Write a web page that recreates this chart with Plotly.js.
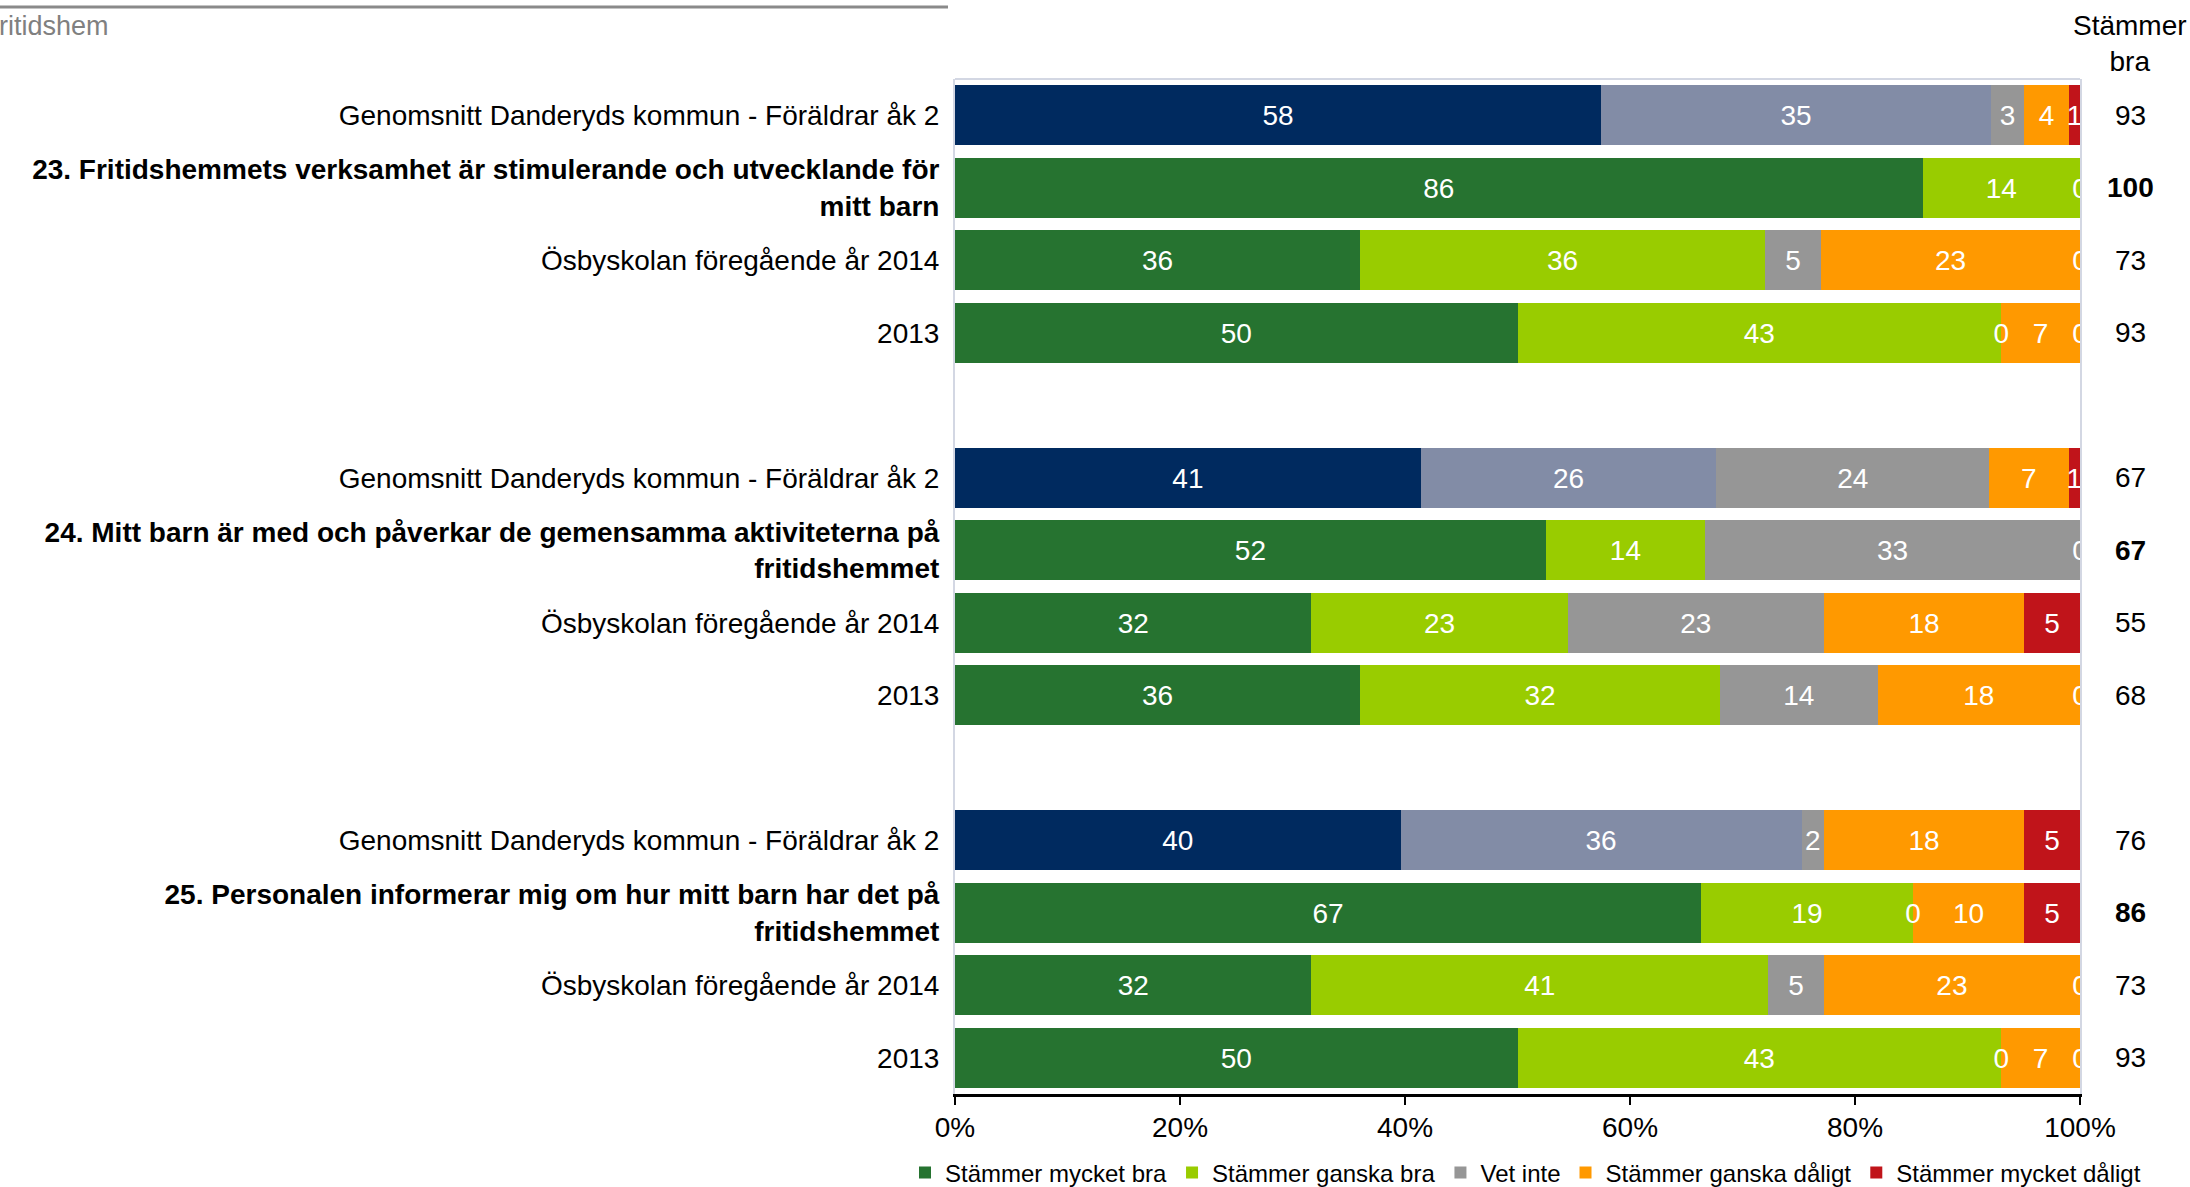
<!DOCTYPE html>
<html>
<head>
<meta charset="utf-8">
<script src="https://cdn.plot.ly/plotly-3.0.1.min.js"></script>
<style>html,body{margin:0;padding:0;background:#fff;}#chart{width:2190px;height:1187px;}</style>
</head>
<body>
<div id="chart"></div>
<script>
// ---------- data ----------
const rowLabels = [
  "Genomsnitt Danderyds kommun - Föräldrar åk 2",
  "23. Fritidshemmets verksamhet är stimulerande och utvecklande för<br>mitt barn",
  "Ösbyskolan föregående år 2014",
  "2013",
  "Genomsnitt Danderyds kommun - Föräldrar åk 2",
  "24. Mitt barn är med och påverkar de gemensamma aktiviteterna på<br>fritidshemmet",
  "Ösbyskolan föregående år 2014",
  "2013",
  "Genomsnitt Danderyds kommun - Föräldrar åk 2",
  "25. Personalen informerar mig om hur mitt barn har det på<br>fritidshemmet",
  "Ösbyskolan föregående år 2014",
  "2013"
];
const rowIsQuestion = [false,true,false,false, false,true,false,false, false,true,false,false];
const rowIsAverage  = [true,false,false,false, true,false,false,false, true,false,false,false];

const seriesNames = ["Stämmer mycket bra","Stämmer ganska bra","Vet inte","Stämmer ganska dåligt","Stämmer mycket dåligt"];
const mycketBra    = [58,86,36,50, 41,52,32,36, 40,67,32,50];
const ganskaBra    = [35,14,36,43, 26,14,23,32, 36,19,41,43];
const vetInte      = [3,0,5,0,     24,33,23,14, 2,0,5,0];
const ganskaDaligt = [4,0,23,7,    7,0,18,18,   18,10,23,7];
const mycketDaligt = [1,0,0,0,     1,0,5,0,     5,5,0,0];
const stammerBra   = [93,100,73,93, 67,67,55,68, 76,86,73,93];
const xTickVals   = [0,20,40,60,80,100];
const xTickLabels = ["0%","20%","40%","60%","80%","100%"];
const headerText = "Stämmer<br>bra";
const topText = "ritidshem";

// ---------- styles ----------
const FONT = "Liberation Sans, Arial, sans-serif";
const C = {
  green:"#267330", lime:"#99CC00", grey:"#969696", orange:"#FF9900", red:"#C0141A",
  navy:"#002A5F", blueGrey:"#828CA6"
};
const W = 2190, H = 1187;
const PL = 955, PR = 2080, PT = 79, PB = 1094;
const pxX = px => (px - PL) / (PR - PL);
const pxY = py => (PB - py) / (PB - PT);

// row positions: groups of 4 with one empty slot between groups
const yPos = rowLabels.map((_, i) => Math.floor(i / 4) * 5 + (i % 4));

const all = [mycketBra, ganskaBra, vetInte, ganskaDaligt, mycketDaligt];

function pick(arr, cond) {
  const xs = [], ys = [];
  arr.forEach((v, i) => { if (cond(i)) { xs.push(v); ys.push(yPos[i]); } });
  return {x: xs, y: ys};
}
function barTrace(arr, cond, name, color, showlegend) {
  const p = pick(arr, cond);
  return {
    type: "bar", orientation: "h", name: name, x: p.x, y: p.y,
    marker: {color: color, line: {width: 0}},
    showlegend: showlegend, hoverinfo: "skip", textposition: "none"
  };
}

const traces = [
  barTrace(mycketBra, i => !rowIsAverage[i], seriesNames[0], C.green, true),
  barTrace(mycketBra, i => rowIsAverage[i], seriesNames[0], C.navy, false),
  barTrace(ganskaBra, i => !rowIsAverage[i], seriesNames[1], C.lime, true),
  barTrace(ganskaBra, i => rowIsAverage[i], seriesNames[1], C.blueGrey, false),
  barTrace(vetInte, i => true, seriesNames[2], C.grey, true),
  barTrace(ganskaDaligt, i => true, seriesNames[3], C.orange, true),
  barTrace(mycketDaligt, i => true, seriesNames[4], C.red, true)
];

// value labels centred in each (normalised) segment
const lx = [], ly = [], lt = [];
rowLabels.forEach((_, i) => {
  const vals = all.map(a => a[i]);
  const tot = vals.reduce((s, v) => s + v, 0);
  let cum = 0;
  const seen = new Set();
  vals.forEach(v => {
    const mid = (cum + v / 2) / tot * 100;
    const key = mid.toFixed(2);
    if (!(v === 0 && seen.has(key))) {
      lx.push(mid); ly.push(yPos[i] + 0.04); lt.push(String(v));
      seen.add(key);
    }
    cum += v;
  });
});
traces.push({
  type: "scatter", mode: "text", x: lx, y: ly, text: lt,
  textfont: {family: FONT, size: 28, color: "#ffffff"},
  textposition: "middle center", cliponaxis: true,
  showlegend: false, hoverinfo: "skip"
});

const annotations = stammerBra.map((v, i) => ({
  xref: "paper", yref: "y", x: pxX(2130), y: yPos[i],
  text: rowIsQuestion[i] ? "<b>" + v + "</b>" : String(v),
  showarrow: false, xanchor: "center", yanchor: "middle",
  font: {family: FONT, size: 28, color: "#000"}
}));
annotations.push({
  xref: "paper", yref: "paper", x: pxX(2130), y: pxY(44),
  text: headerText, showarrow: false, xanchor: "center", yanchor: "middle",
  font: {family: FONT, size: 28, color: "#000"}
});
annotations.push({
  xref: "paper", yref: "paper", x: pxX(-3), y: pxY(26),
  text: topText, showarrow: false, xanchor: "left", yanchor: "middle",
  font: {family: FONT, size: 27, color: "#808080"}
});

const tickText = rowLabels.map((t, i) =>
  rowIsQuestion[i] ? t.split("<br>").map(s => "<b>" + s + "</b>").join("<br>") : t);

const layout = {
  width: W, height: H,
  margin: {l: PL, r: W - PR, t: PT, b: H - PB, pad: 0, autoexpand: false},
  paper_bgcolor: "#fff", plot_bgcolor: "#fff",
  barmode: "stack", barnorm: "percent", bargap: 0.17,
  font: {family: FONT, size: 28, color: "#000"},
  xaxis: {
    range: [0, 100], tickmode: "array", tickvals: xTickVals, ticktext: xTickLabels,
    showgrid: false, zeroline: false,
    showline: true, linecolor: "#000", linewidth: 3,
    ticks: "outside", ticklen: 8, tickwidth: 2, tickcolor: "#000",
    tickfont: {family: FONT, size: 28, color: "#000"}, ticklabelstandoff: -2, fixedrange: true
  },
  yaxis: {
    range: [13.5, -0.5], tickmode: "array", tickvals: yPos, ticktext: tickText,
    showgrid: false, zeroline: false,
    showline: true, mirror: true, linecolor: "#D3D7E3", linewidth: 2,
    ticks: "", tickfont: {family: FONT, size: 28, color: "#000"}, ticklabelstandoff: 8, fixedrange: true
  },
  shapes: [
    {type: "line", xref: "paper", yref: "paper", x0: 0, x1: 1, y0: 1, y1: 1, line: {color: "#D3D7E3", width: 2}},
    {type: "line", xref: "paper", yref: "paper", x0: pxX(0), x1: pxX(948), y0: pxY(7), y1: pxY(7), line: {color: "#8a8a8a", width: 3}}
  ],
  annotations: annotations,
  showlegend: true,
  legend: {
    orientation: "h", x: pxX(905), xanchor: "left", y: pxY(1173), yanchor: "middle",
    font: {family: FONT, size: 24, color: "#000"}, traceorder: "normal",
    itemclick: false, itemdoubleclick: false, itemwidth: 30, tracegroupgap: 0
  }
};

Plotly.newPlot("chart", traces, layout, {displayModeBar: false, staticPlot: true});
</script>
</body>
</html>
